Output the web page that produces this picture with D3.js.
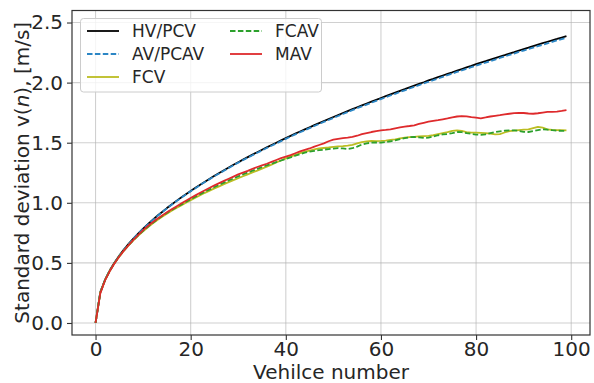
<!DOCTYPE html>
<html>
<head>
<meta charset="utf-8">
<script src="https://cdn.jsdelivr.net/npm/d3@7"></script>
<style>
  html, body { margin: 0; padding: 0; background: #fff; }
  svg { display: block; }
  text { font-family: "DejaVu Sans", sans-serif; fill: #262626; }
</style>
</head>
<body>
<svg id="chart" width="594" height="383"></svg>
<script>
// Standard deviation of speed along the platoon, per vehicle index
const vehicles = d3.range(0, 100);

const hvPcv = [0,0.257,0.360,0.438,0.503,0.561,0.613,0.660,0.705,0.746,0.785,0.822,0.858,0.892,0.924,0.956,0.986,1.016,1.044,1.072,
  1.099,1.125,1.151,1.176,1.201,1.225,1.248,1.271,1.294,1.316,1.338,1.359,1.380,1.401,1.421,1.441,1.461,1.481,1.500,1.519,
  1.538,1.557,1.575,1.593,1.611,1.628,1.646,1.663,1.680,1.697,1.714,1.730,1.747,1.763,1.779,1.795,1.811,1.826,1.842,1.857,
  1.872,1.887,1.902,1.917,1.932,1.946,1.961,1.975,1.989,2.003,2.018,2.031,2.045,2.059,2.073,2.086,2.100,2.113,2.126,2.139,
  2.153,2.166,2.178,2.191,2.204,2.217,2.229,2.242,2.254,2.267,2.279,2.291,2.304,2.316,2.328,2.340,2.352,2.363,2.375,2.387];

const avPcav = [0,0.256,0.359,0.437,0.502,0.560,0.612,0.659,0.703,0.744,0.783,0.820,0.856,0.890,0.922,0.953,0.983,1.013,1.041,1.069,
  1.096,1.122,1.148,1.173,1.197,1.221,1.244,1.267,1.290,1.312,1.334,1.355,1.376,1.396,1.416,1.436,1.456,1.475,1.494,1.513,
  1.532,1.551,1.569,1.587,1.604,1.621,1.639,1.656,1.673,1.689,1.706,1.722,1.739,1.755,1.771,1.787,1.802,1.817,1.833,1.848,
  1.863,1.878,1.893,1.907,1.922,1.936,1.951,1.965,1.979,1.993,2.007,2.020,2.034,2.048,2.062,2.075,2.089,2.102,2.115,2.128,
  2.141,2.154,2.166,2.179,2.192,2.205,2.217,2.230,2.242,2.255,2.267,2.279,2.291,2.303,2.315,2.327,2.339,2.351,2.362,2.374];

const fcv = [0,0.252,0.356,0.434,0.498,0.554,0.603,0.648,0.689,0.727,0.763,0.797,0.828,0.857,0.884,0.909,0.933,0.956,0.978,1.000,
  1.022,1.043,1.063,1.083,1.101,1.120,1.137,1.155,1.172,1.188,1.204,1.221,1.237,1.253,1.268,1.284,1.300,1.318,1.336,1.352,
  1.370,1.384,1.398,1.414,1.425,1.434,1.444,1.452,1.456,1.460,1.465,1.469,1.472,1.476,1.482,1.494,1.505,1.511,1.514,1.513,
  1.515,1.518,1.523,1.528,1.536,1.542,1.546,1.549,1.552,1.554,1.556,1.562,1.571,1.580,1.588,1.598,1.603,1.598,1.588,1.584,
  1.584,1.582,1.579,1.575,1.570,1.572,1.585,1.596,1.600,1.604,1.608,1.611,1.622,1.631,1.625,1.611,1.606,1.604,1.605,1.603];

const fcav = [0,0.252,0.357,0.435,0.499,0.555,0.604,0.650,0.691,0.730,0.766,0.800,0.832,0.862,0.890,0.915,0.940,0.963,0.985,1.007,
  1.030,1.051,1.072,1.092,1.112,1.131,1.150,1.168,1.186,1.203,1.220,1.236,1.252,1.267,1.282,1.297,1.311,1.325,1.339,1.352,
  1.365,1.378,1.392,1.405,1.417,1.425,1.432,1.438,1.442,1.447,1.451,1.455,1.452,1.448,1.454,1.468,1.485,1.495,1.500,1.502,
  1.500,1.505,1.512,1.520,1.530,1.538,1.545,1.548,1.545,1.540,1.542,1.552,1.562,1.569,1.572,1.580,1.589,1.588,1.580,1.574,
  1.568,1.566,1.570,1.580,1.589,1.595,1.600,1.603,1.603,1.598,1.590,1.589,1.596,1.604,1.611,1.609,1.604,1.600,1.599,1.598];

const mav = [0,0.246,0.355,0.432,0.497,0.553,0.604,0.650,0.693,0.733,0.772,0.807,0.838,0.868,0.895,0.921,0.946,0.970,0.994,1.017,
  1.040,1.062,1.084,1.105,1.125,1.145,1.164,1.182,1.200,1.218,1.236,1.251,1.266,1.283,1.298,1.312,1.325,1.340,1.356,1.372,
  1.385,1.397,1.412,1.428,1.441,1.452,1.468,1.481,1.494,1.512,1.525,1.532,1.538,1.542,1.548,1.558,1.571,1.580,1.589,1.597,
  1.602,1.606,1.611,1.620,1.628,1.634,1.639,1.645,1.656,1.666,1.675,1.682,1.688,1.695,1.702,1.711,1.718,1.722,1.719,1.712,
  1.708,1.703,1.710,1.718,1.724,1.729,1.735,1.741,1.746,1.749,1.747,1.743,1.741,1.745,1.751,1.756,1.757,1.759,1.765,1.772];

const xTicks = [0, 20, 40, 60, 80, 100];
const yTicks = [0.0, 0.5, 1.0, 1.5, 2.0, 2.5];

const seriesNames = ["HV/PCV", "AV/PCAV", "FCV", "FCAV", "MAV"];
const seriesValues = [hvPcv, avPcav, fcv, fcav, mav];
const seriesColors = ["#000000", "#2b86c5", "#bcbd22", "#2ca02c", "#de2a2c"];
const seriesDash = [null, "5.5,2.4", null, "5.5,2.4", null];

const svg = d3.select("#chart");
const plot = { left: 72, right: 590, top: 10.5, bottom: 335 };

const x = d3.scaleLinear().domain([-4.95, 103.95]).range([plot.left, plot.right]);
const y = d3.scaleLinear().domain([-0.1, 2.6]).range([plot.bottom, plot.top]);

// grid
const grid = svg.append("g").attr("stroke", "#b0b0b0").attr("stroke-opacity", 0.6).attr("stroke-width", 1.1);
xTicks.forEach(t => grid.append("line")
  .attr("x1", x(t)).attr("x2", x(t)).attr("y1", plot.top).attr("y2", plot.bottom));
yTicks.forEach(t => grid.append("line")
  .attr("x1", plot.left).attr("x2", plot.right).attr("y1", y(t)).attr("y2", y(t)));

// data lines
const line = d3.line().x((d, i) => x(vehicles[i])).y(d => y(d));
const lines = svg.append("g").attr("fill", "none");
seriesValues.forEach((vals, k) => {
  const p = lines.append("path")
    .attr("d", line(vals))
    .attr("stroke", seriesColors[k])
    .attr("stroke-width", 1.8)
    .attr("stroke-linejoin", "round");
  if (seriesDash[k]) p.attr("stroke-dasharray", seriesDash[k]);
});

// axes
const xAxis = d3.axisBottom(x).tickValues(xTicks).tickSize(5).tickPadding(2).tickFormat(d3.format("d"));
const yAxis = d3.axisLeft(y).tickValues(yTicks).tickSize(5).tickPadding(4).tickFormat(d3.format(".1f"));

const gx = svg.append("g").attr("transform", `translate(0,${plot.bottom})`).call(xAxis);
const gy = svg.append("g").attr("transform", `translate(${plot.left},0)`).call(yAxis);
[gx, gy].forEach(g => {
  g.select(".domain").remove();
  g.selectAll(".tick line").attr("stroke", "#333").attr("stroke-width", 1.1);
  g.selectAll(".tick text").attr("font-size", 20).attr("font-family", "DejaVu Sans").attr("fill", "#262626");
});

// frame
svg.append("rect")
  .attr("x", plot.left).attr("y", plot.top)
  .attr("width", plot.right - plot.left).attr("height", plot.bottom - plot.top)
  .attr("fill", "none").attr("stroke", "#333").attr("stroke-width", 1.2);

// axis titles
svg.append("text")
  .attr("x", (plot.left + plot.right) / 2).attr("y", 379)
  .attr("text-anchor", "middle").attr("font-size", 20)
  .text("Vehilce number");

const yl = svg.append("text")
  .attr("transform", `translate(29,${(plot.top + plot.bottom) / 2}) rotate(-90)`)
  .attr("text-anchor", "middle").attr("font-size", 20);
yl.append("tspan").text("Standard deviation v(");
yl.append("tspan").attr("font-style", "italic").text("n");
yl.append("tspan").text("), [m/s]");

// legend
const legend = svg.append("g");
legend.append("rect")
  .attr("x", 80.5).attr("y", 18.5).attr("width", 241).attr("height", 73.5)
  .attr("rx", 3).attr("fill", "#fff").attr("fill-opacity", 0.8)
  .attr("stroke", "#cccccc").attr("stroke-width", 1);

const legendCols = [87, 230];
const legendRows = [31, 54, 77];
seriesNames.forEach((name, k) => {
  const col = Math.floor(k / 3), row = k % 3;
  const lx = legendCols[col], ly = legendRows[row];
  const l = legend.append("line")
    .attr("x1", lx).attr("x2", lx + 32).attr("y1", ly).attr("y2", ly)
    .attr("stroke", seriesColors[k]).attr("stroke-width", 1.8);
  if (seriesDash[k]) l.attr("stroke-dasharray", seriesDash[k]);
  legend.append("text")
    .attr("x", lx + 45).attr("y", ly).attr("dy", "0.36em")
    .attr("font-size", 17).text(name);
});
</script>
</body>
</html>
